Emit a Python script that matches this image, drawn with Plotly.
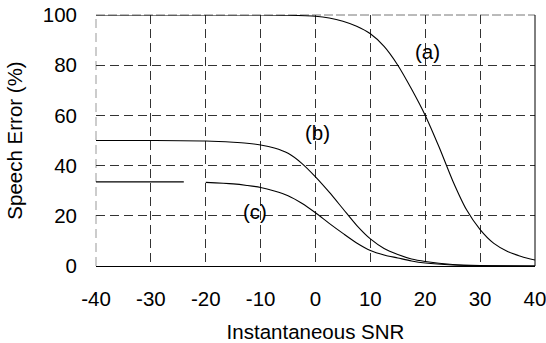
import plotly.graph_objects as go

# Instantaneous SNR (dB) sample points
snr_a = [-40, -30, -20, -10, -5, 0, 2.5, 5, 7.5, 10, 12.5, 15, 17.5, 20, 22.5,
         25, 27.5, 30, 32.5, 35, 37.5, 40]
err_a = [100, 100, 100, 100, 99.9, 99.5, 98.8, 97.5, 95.5, 92.5, 87.5, 80, 70.5,
         60, 47.5, 34, 22.5, 14.5, 9, 5.8, 3.8, 2.4]

snr_b = [-40, -30, -20, -15, -12.5, -10, -7.5, -5, -2.5, 0, 2.5, 5, 7.5, 10, 12.5, 15,
         17.5, 20, 25, 30, 35, 40]
err_b = [50, 50, 49.8, 49.3, 48.9, 48.2, 47.0, 44.9, 40.9, 35.5, 29.4, 22.8, 16.2, 10.8,
         7, 4.6, 2.8, 1.8, 0.6, 0.2, 0.1, 0]

# curve (c) has a short break in the trace between -24 and -20
snr_c = [-40, -30, -24, None, -20, -15, -12.5, -10, -7.5, -5, -2.5, 0, 2.5, 5, 7.5, 10,
         12.5, 15, 17.5, 20, 25, 30, 35, 40]
err_c = [33.5, 33.5, 33.5, None, 33.3, 32.7, 32.1, 31.3, 29.9, 28, 25, 21.2, 17, 13,
         9.2, 6.2, 4.4, 3.2, 2, 1.2, 0.4, 0.1, 0, 0]

curve_labels = ["(a)", "(b)", "(c)"]
label_x = [20.5, 0.3, -11]
label_y = [85.3, 53, 21.8]

x_ticks = [-40, -30, -20, -10, 0, 10, 20, 30, 40]
y_ticks = [0, 20, 40, 60, 80, 100]

FONT = "Liberation Sans, Arial, sans-serif"
FS = 20.5

fig = go.Figure()

# faint dashed top and left frame edges, solid right edge
fig.add_shape(type="line", xref="paper", yref="paper", x0=0, x1=0, y0=0, y1=1,
              line=dict(color="#999999", width=1, dash="9px,5px"), layer="below")
fig.add_shape(type="line", xref="paper", yref="paper", x0=0, x1=1, y0=1, y1=1,
              line=dict(color="#777777", width=1, dash="9px,3px"), layer="below")
fig.add_shape(type="line", xref="paper", yref="paper", x0=1, x1=1, y0=0, y1=1,
              line=dict(color="black", width=1))

for xs, ys in [(snr_a, err_a), (snr_b, err_b), (snr_c, err_c)]:
    fig.add_trace(go.Scatter(x=xs, y=ys, mode="lines",
                             line=dict(color="black", width=1.1, shape="spline", smoothing=0.8),
                             connectgaps=False, showlegend=False, hoverinfo="skip",
                             cliponaxis=False))

for txt, lx, ly in zip(curve_labels, label_x, label_y):
    fig.add_annotation(x=lx, y=ly, text=txt, showarrow=False,
                       font=dict(family=FONT, size=FS, color="black"))

grid = dict(showgrid=True, gridcolor="#333333", griddash="9px,5px", gridwidth=1, zeroline=False)

fig.update_layout(
    width=546, height=343,
    margin=dict(l=96, r=11, t=15, b=77),
    paper_bgcolor="white", plot_bgcolor="white",
    font=dict(family=FONT, size=FS, color="black"),
    xaxis=dict(range=[-40, 40], tickvals=x_ticks, ticktext=[str(v) for v in x_ticks],
               showline=True, linecolor="black", linewidth=1, ticks="",
               ticklabelstandoff=14, ticklabeloverflow="allow", automargin=False,
               title=dict(text="Instantaneous SNR", standoff=16, font=dict(size=FS)),
               **grid),
    yaxis=dict(range=[0, 100], tickvals=y_ticks, ticktext=[str(v) for v in y_ticks],
               showline=False, ticks="", ticklabelstandoff=18, automargin=False,
               ticklabeloverflow="allow",
               title=dict(text="Speech Error (%)", standoff=14, font=dict(size=FS)),
               **grid),
)

fig.write_html("out.html")
